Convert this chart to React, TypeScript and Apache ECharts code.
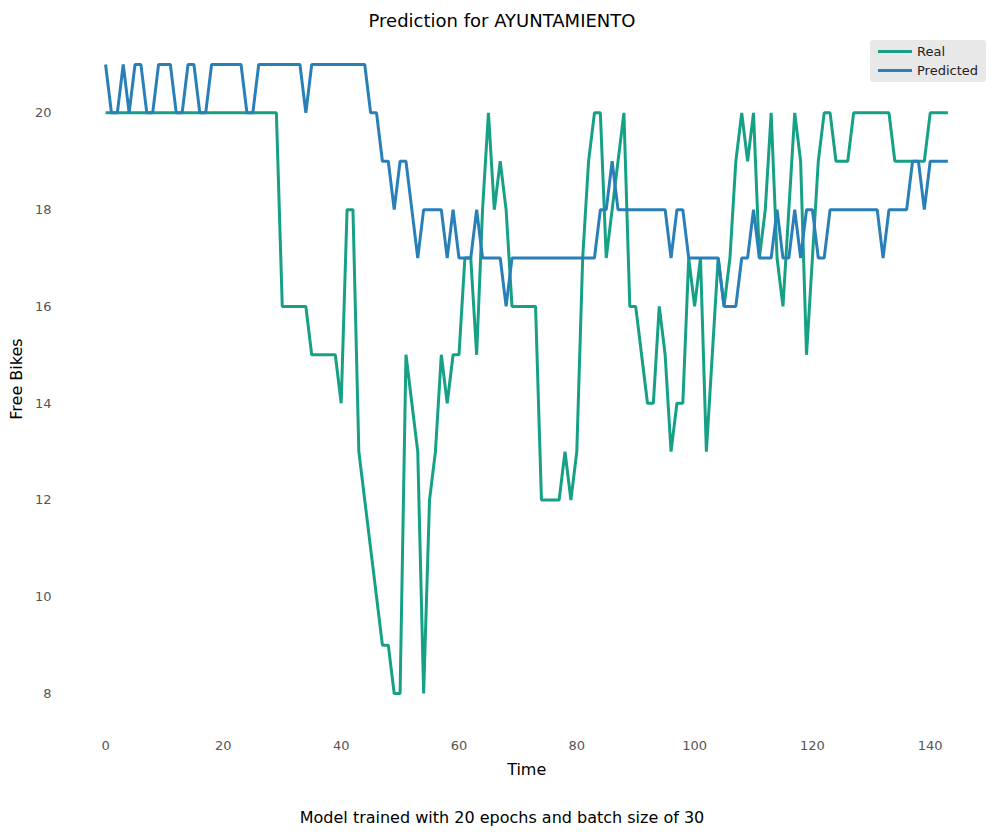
import { useEffect, useRef } from "react";
import * as echarts from "echarts";

const real = [
  20, 20, 20, 20, 20, 20, 20, 20, 20, 20, 20, 20, 20, 20, 20, 20, 20, 20, 20, 20,
  20, 20, 20, 20, 20, 20, 20, 20, 20, 20, 16, 16, 16, 16, 16, 15, 15, 15, 15, 15,
  14, 18, 18, 13, 12, 11, 10, 9, 9, 8, 8, 15, 14, 13, 8, 12, 13, 15, 14, 15,
  15, 17, 17, 15, 18, 20, 18, 19, 18, 16, 16, 16, 16, 16, 12, 12, 12, 12, 13, 12,
  13, 17, 19, 20, 20, 17, 18, 19, 20, 16, 16, 15, 14, 14, 16, 15, 13, 14, 14, 17,
  16, 17, 13, 15, 17, 16, 17, 19, 20, 19, 20, 17, 18, 20, 17, 16, 18, 20, 19, 15,
  17, 19, 20, 20, 19, 19, 19, 20, 20, 20, 20, 20, 20, 20, 19, 19, 19, 19, 19, 19,
  20, 20, 20, 20,
];

const predicted = [
  21, 20, 20, 21, 20, 21, 21, 20, 20, 21, 21, 21, 20, 20, 21, 21, 20, 20, 21, 21,
  21, 21, 21, 21, 20, 20, 21, 21, 21, 21, 21, 21, 21, 21, 20, 21, 21, 21, 21, 21,
  21, 21, 21, 21, 21, 20, 20, 19, 19, 18, 19, 19, 18, 17, 18, 18, 18, 18, 17, 18,
  17, 17, 17, 18, 17, 17, 17, 17, 16, 17, 17, 17, 17, 17, 17, 17, 17, 17, 17, 17,
  17, 17, 17, 17, 18, 18, 19, 18, 18, 18, 18, 18, 18, 18, 18, 18, 17, 18, 18, 17,
  17, 17, 17, 17, 17, 16, 16, 16, 17, 17, 18, 17, 17, 17, 18, 17, 17, 18, 17, 18,
  18, 17, 17, 18, 18, 18, 18, 18, 18, 18, 18, 18, 17, 18, 18, 18, 18, 19, 19, 18,
  19, 19, 19, 19,
];

const xTicks = [0, 20, 40, 60, 80, 100, 120, 140];
const yTicks = [8, 10, 12, 14, 16, 18, 20];

const font = "DejaVu Sans";

export default function App() {
  const ref = useRef<HTMLDivElement>(null);
  useEffect(() => {
    if (!ref.current) return;
    const chart = echarts.init(ref.current, undefined, { renderer: "svg" });
    chart.setOption({
      animation: false,
      textStyle: { fontFamily: font },
      title: {
        text: "Prediction for AYUNTAMIENTO",
        left: "center",
        top: 6,
        textStyle: { fontFamily: font, fontSize: 18, fontWeight: "normal", color: "#000" },
      },
      legend: {
        right: 18,
        top: 40,
        orient: "vertical",
        backgroundColor: "#e8e8e8",
        borderRadius: 3,
        padding: [5, 8],
        itemGap: 6,
        itemWidth: 34,
        textStyle: { fontFamily: font, fontSize: 13, color: "#222" },
        data: [
          { name: "Real", icon: "rect", itemStyle: { color: "#16a085" } },
          { name: "Predicted", icon: "rect", itemStyle: { color: "#2980b9" } },
        ],
        itemHeight: 3,
      },
      grid: { left: 62, right: 14, top: 33, bottom: 114 },
      xAxis: {
        type: "value",
        min: -7.15,
        max: 150.15,
        name: "Time",
        nameLocation: "middle",
        nameGap: 36,
        nameTextStyle: { fontFamily: font, fontSize: 16, color: "#000" },
        axisLine: { show: false },
        axisTick: { show: false },
        splitLine: { show: false },
        axisLabel: { customValues: xTicks, color: "#555", fontSize: 13, margin: 14 },
      },
      yAxis: {
        type: "value",
        min: 7.35,
        max: 21.65,
        name: "Free Bikes",
        nameLocation: "middle",
        nameGap: 38,
        nameTextStyle: { fontFamily: font, fontSize: 16, color: "#000" },
        axisLine: { show: false },
        axisTick: { show: false },
        splitLine: { show: false },
        axisLabel: { customValues: yTicks, color: "#555", fontSize: 13, margin: 12 },
      },
      graphic: [
        {
          type: "text",
          left: "center",
          top: 809,
          style: {
            text: "Model trained with 20 epochs and batch size of 30",
            font: `16px '${font}'`,
            fill: "#000",
          },
        },
      ],
      series: [
        {
          name: "Real",
          type: "line",
          data: real.map((v, i) => [i, v]),
          showSymbol: false,
          lineStyle: { width: 3, color: "#16a085" },
          itemStyle: { color: "#16a085" },
        },
        {
          name: "Predicted",
          type: "line",
          data: predicted.map((v, i) => [i, v]),
          showSymbol: false,
          lineStyle: { width: 3, color: "#2980b9" },
          itemStyle: { color: "#2980b9" },
        },
      ],
    });
    return () => chart.dispose();
  }, []);
  return <div ref={ref} style={{ width: 1004, height: 839, position: "absolute", left: 0, top: 0 }} />;
}
